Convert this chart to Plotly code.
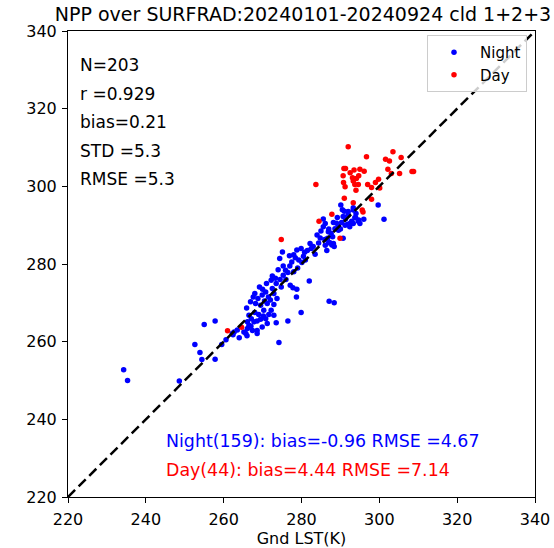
import plotly.graph_objects as go

# ---------------- data ----------------
night_x = [
    234.3, 235.3, 248.6, 252.6, 253.9, 254.4, 257.8, 255.0, 257.8, 259.5, 260.6, 262.4,
    275.1, 274.4, 276.9, 278.0, 278.8, 279.9, 278.4, 279.3, 280.1, 275.3, 275.9, 276.5,
    275.3, 272.5, 273.3, 272.2, 274.8, 277.1, 277.8, 278.8, 278.7, 269.2, 268.0, 267.6,
    268.8, 269.9, 270.8, 272.5, 272.9, 273.7, 272.0, 271.2, 272.9, 272.2, 270.3, 269.5,
    268.2, 266.9, 265.9, 266.5, 267.1, 266.1, 266.5, 267.8, 268.6, 269.5, 270.2, 270.8,
    271.6, 272.9, 273.5, 271.2, 269.9, 268.6, 267.4, 266.1, 265.2, 265.7, 262.2, 262.7,
    276.5, 279.9, 268.6, 274.2,
    290.1, 293.3, 299.7, 301.2, 291.0, 292.0, 290.7, 291.3, 290.3, 291.8, 292.9, 293.7,
    293.3, 294.6, 295.0, 292.4, 291.2, 289.5, 288.6, 288.2, 285.6, 286.1, 286.9, 287.6,
    284.8, 286.7, 287.3, 282.2, 287.8,
    287.1, 288.4, 282.0, 286.5, 287.0, 286.0, 288.4, 281.0, 282.5, 283.5, 284.4, 280.8,
    293.9, 294.7, 291.3, 292.4, 293.3, 288.2, 290.7, 289.5, 285.6, 286.1,
    263.5, 264.0, 266.0, 267.0, 268.0, 269.0, 270.5, 271.5, 270.0, 271.0, 273.5, 274.5,
    276.0, 274.0, 277.0, 278.0, 279.0, 277.5, 280.5, 281.5, 283.0, 284.0, 285.0, 287.0,
    288.0, 289.0, 290.0, 292.0, 294.0, 290.5, 296.0, 289.2,
]
night_y = [
    252.8, 250.0, 249.9, 259.3, 257.2, 255.4, 255.5, 264.4, 265.3, 259.3, 260.5, 261.8,
    283.1, 281.4, 282.1, 282.4, 283.6, 284.0, 281.6, 281.0, 280.4, 279.5, 278.4, 277.8,
    277.1, 276.9, 276.3, 275.8, 274.1, 274.5, 273.9, 273.5, 271.5, 274.1, 272.4, 271.5,
    271.1, 272.0, 272.8, 273.7, 272.4, 271.1, 270.7, 269.8, 269.6, 268.1, 268.1, 269.4,
    269.8, 270.3, 268.7, 266.8, 265.9, 265.1, 264.2, 265.1, 265.3, 265.8, 266.6, 265.9,
    267.0, 266.8, 264.9, 264.7, 263.8, 262.9, 262.9, 263.4, 262.5, 262.1, 262.1, 262.5,
    265.3, 267.5, 262.1, 259.8,
    295.2, 294.5, 295.2, 291.5, 293.6, 292.6, 292.2, 291.6, 290.7, 290.2, 291.0, 291.9,
    290.4, 291.0, 290.4, 289.6, 290.0, 289.8, 289.1, 290.7, 291.6, 290.4, 288.3, 287.9,
    286.7, 286.6, 285.5, 285.3, 284.9,
    270.4, 270.0, 275.6, 283.5, 285.5, 286.3, 284.5, 281.0, 284.0, 282.5, 285.4, 283.0,
    292.0, 291.3, 292.0, 290.4, 293.9, 285.3, 286.6, 288.7, 289.6, 284.8,
    263.0, 261.0, 261.5, 264.0, 267.5, 267.0, 270.5, 271.5, 273.5, 275.0, 275.0, 276.0,
    276.0, 278.5, 279.5, 278.0, 279.0, 280.5, 282.0, 283.5, 284.5, 287.5, 288.5, 289.0,
    287.0, 290.5, 289.0, 293.5, 293.0, 294.0, 291.5, 292.0,
]
day_x = [
    261.0, 264.6, 274.8, 283.7, 284.5, 287.8, 289.9, 292.0, 296.7, 301.6, 302.6, 303.5,
    305.6, 308.4, 308.8, 305.2, 303.1, 302.2, 299.8, 300.1, 298.0, 298.0, 290.9, 291.3,
    293.5, 295.0, 296.1, 290.7, 294.7, 294.1, 293.3, 293.7, 294.6, 293.1, 291.2, 291.0,
    293.3, 295.6, 295.8, 292.5, 297.0, 290.8, 299.0, 294.0,
]
day_y = [
    262.8, 263.7, 286.3, 300.5, 291.0, 292.8, 286.6, 310.2, 307.6, 307.0, 306.5, 308.9,
    307.4, 303.8, 303.8, 303.3, 303.3, 304.4, 301.8, 299.6, 299.7, 296.7, 304.6, 304.6,
    304.2, 304.4, 303.9, 302.7, 302.7, 302.0, 301.4, 300.5, 300.5, 302.2, 299.9, 296.9,
    295.8, 293.9, 293.4, 303.5, 300.5, 301.0, 301.0, 299.0,
]
axis_range = [220, 340]
tick_vals = [220, 240, 260, 280, 300, 320, 340]

title_text = "NPP over SURFRAD:20240101-20240924 cld 1+2+3"
stats_lines = ["N=203", "r =0.929", "bias=0.21", "STD =5.3", "RMSE =5.3"]
night_stats = "Night(159): bias=-0.96 RMSE =4.67"
day_stats = "Day(44): bias=4.44 RMSE =7.14"

# ---------------- figure ----------------
W, H = 554, 548
L, R, T, B = 68, 19, 31, 51
PW, PH = W - L - R, H - T - B
FONT = "DejaVu Sans"

fig = go.Figure()
fig.add_trace(go.Scatter(
    x=night_x, y=night_y, mode="markers", name="Night",
    marker=dict(color="blue", size=5.5, line=dict(width=0)),
))
fig.add_trace(go.Scatter(
    x=day_x, y=day_y, mode="markers", name="Day",
    marker=dict(color="red", size=5.5, line=dict(width=0)),
))
fig.add_trace(go.Scatter(
    x=axis_range, y=axis_range, mode="lines", showlegend=False,
    line=dict(color="black", width=2.5, dash="10px,5px"),
))


def px_x(p):
    return (p - L) / PW


def px_y(p):
    return (H - B - p) / PH


ann = []
for i, s in enumerate(stats_lines):
    ann.append(dict(text=s, x=px_x(78), y=px_y(65 + i * 28.6), xref="paper", yref="paper",
                    xanchor="left", yanchor="middle", showarrow=False,
                    font=dict(size=17, color="black", family=FONT)))
ann.append(dict(text=night_stats, x=px_x(164), y=px_y(441), xref="paper", yref="paper",
                xanchor="left", yanchor="middle", showarrow=False,
                font=dict(size=17.4, color="blue", family=FONT)))
ann.append(dict(text=day_stats, x=px_x(164), y=px_y(470), xref="paper", yref="paper",
                xanchor="left", yanchor="middle", showarrow=False,
                font=dict(size=17.4, color="red", family=FONT)))

axis_common = dict(
    range=axis_range, tickvals=tick_vals, showgrid=False, zeroline=False,
    showline=True, linecolor="black", linewidth=1, mirror=True,
    ticks="outside", ticklen=5, tickcolor="black", tickwidth=1,
    tickfont=dict(size=16, color="black", family=FONT), automargin=False,
)

fig.update_layout(
    width=W, height=H,
    margin=dict(l=L, r=R, t=T, b=B),
    paper_bgcolor="white", plot_bgcolor="white",
    font=dict(family=FONT, color="black"),
    title=dict(text=title_text, x=px_x(303), xref="paper", xanchor="center",
               y=1 - 14 / H, yref="container", yanchor="middle",
               font=dict(size=19, color="black", family=FONT)),
    xaxis=dict(**axis_common, ticklabelstandoff=3,
               title=dict(text="Gnd LST(K)", font=dict(size=16, family=FONT), standoff=8)),
    yaxis=dict(**axis_common, ticklabelstandoff=2),
    legend=dict(x=px_x(527), y=px_y(35), xanchor="right", yanchor="top",
                bgcolor="rgba(255,255,255,0.8)", bordercolor="#cccccc", borderwidth=1,
                font=dict(size=15, family=FONT, color="black"), itemsizing="trace",
                itemwidth=42),
    annotations=ann,
    showlegend=True,
)

fig.write_html("out.html")
